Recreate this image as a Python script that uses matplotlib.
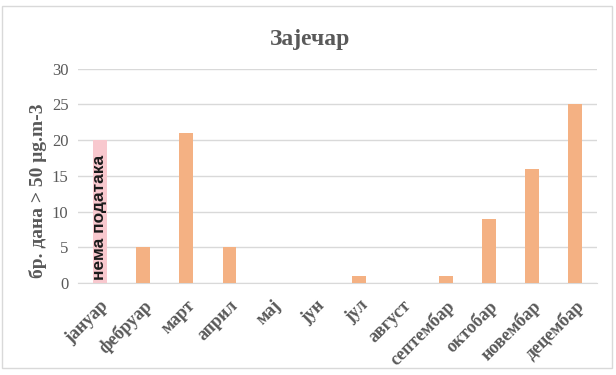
import matplotlib.pyplot as plt
from matplotlib.patches import Rectangle

# Data
months = ['јануар', 'фебруар', 'март', 'април', 'мај', 'јун',
          'јул', 'август', 'септембар', 'октобар', 'новембар', 'децембар']
days_over = [20, 5, 21, 5, 0, 0, 1, 0, 1, 9, 16, 25]
bar_colors = ['#F8C8CE'] + ['#F4B183'] * 11
no_data_note = 'нема података'

plt.rcParams['font.family'] = ['Liberation Serif', 'DejaVu Serif']

fig = plt.figure(figsize=(6.16, 3.75), dpi=100)
ax = fig.add_axes([0.127, 0.245, 0.842, 0.572])

x = list(range(len(months)))
ax.bar(x, days_over, width=0.32, color=bar_colors, zorder=3)

ax.set_ylim(0, 30)
ax.set_yticks([0, 5, 10, 15, 20, 25, 30])
ax.set_xlim(-0.5, len(months) - 0.5)
ax.yaxis.grid(True, color='#D9D9D9', linewidth=1, zorder=0)
for side in ['top', 'right', 'left']:
    ax.spines[side].set_visible(False)
ax.spines['bottom'].set_color('#D9D9D9')
ax.tick_params(axis='both', length=0, colors='#595959')
ax.tick_params(axis='y', labelsize=12, pad=7)

ax.set_xticks(x)
ax.set_xticklabels(months, rotation=45, ha='right', rotation_mode='anchor',
                   fontsize=13, fontweight='bold', color='#595959')
ax.tick_params(axis='x', pad=10)

ax.set_ylabel('бр. дана > 50 μg.m-3', fontsize=14, fontweight='bold',
              color='#595959')
ax.yaxis.set_label_coords(-0.06, 0.43)
fig.text(0.503, 0.896, 'Зајечар', ha='center', va='center',
         fontsize=17, fontweight='bold', color='#595959')

# note inside the first bar
ax.text(x[0], 0.4, no_data_note, rotation=90, ha='center', va='bottom',
        fontsize=12.5, fontweight='bold', color='#1a1a1a',
        family=['Liberation Sans', 'DejaVu Sans'], zorder=4)

# chart frame
fig.patches.append(Rectangle((0.004, 0.018), 0.99, 0.966, transform=fig.transFigure,
                             fill=False, edgecolor='#D9D9D9', linewidth=1))

fig.savefig('out.png', dpi=100)
